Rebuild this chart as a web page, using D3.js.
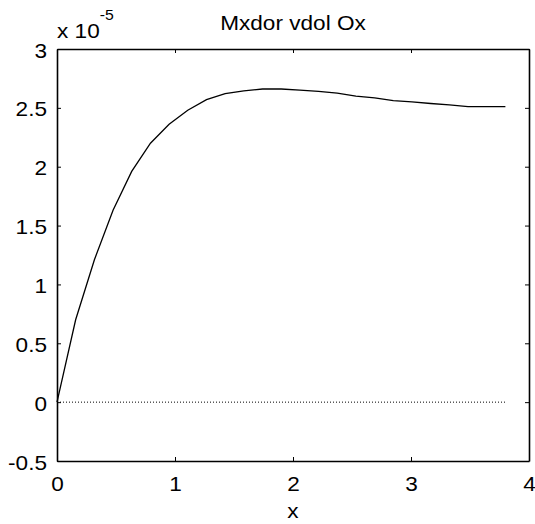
<!DOCTYPE html>
<html><head><meta charset="utf-8">
<script src="https://cdn.jsdelivr.net/npm/d3@7"></script>
<style>body{margin:0;background:#fff}svg{display:block}text{font-family:"Liberation Sans",Arial,sans-serif;fill:#000}</style>
</head><body>
<script>
const xValues = [0,0.158,0.317,0.475,0.633,0.792,0.950,1.108,1.267,1.425,1.583,1.742,1.900,2.058,2.217,2.375,2.533,2.692,2.850,3.008,3.167,3.325,3.483,3.642,3.800];
const yValues = [0,0.70,1.21,1.63,1.96,2.20,2.36,2.48,2.57,2.62,2.645,2.66,2.66,2.65,2.64,2.625,2.60,2.585,2.562,2.55,2.537,2.525,2.51,2.51,2.51];
const xTicks = [0,1,2,3,4];
const yTicks = [-0.5,0,0.5,1,1.5,2,2.5,3];
const titleText = "Mxdor vdol Ox";
const xLabel = "x";

const W = 535, H = 524;
const SX = 1.13; // horizontal text stretch seen in reference
const m = {left:57, right:6, top:49, bottom:63};
const svg = d3.select("body").append("svg").attr("width",W).attr("height",H);
const x = d3.scaleLinear().domain([0,4]).range([m.left, W-m.right]);
const y = d3.scaleLinear().domain([-0.5,3]).range([H-m.bottom, m.top]);
const data = xValues.map((v,i)=>({x:v,y:yValues[i]}));

// zero reference dotted line
svg.append("line").attr("x1",x(0)).attr("x2",x(3.8)).attr("y1",y(0)).attr("y2",y(0))
  .attr("stroke","#000").attr("stroke-width",1).attr("stroke-dasharray","1,2");

// curve
svg.append("path").datum(data)
  .attr("d", d3.line().x(d=>x(d.x)).y(d=>y(d.y)))
  .attr("fill","none").attr("stroke","#000").attr("stroke-width",1.3);

const fmt = d=>String(d);
const tl = 4;
const gb = svg.append("g").attr("transform",`translate(0,${y(-0.5)})`)
  .call(d3.axisBottom(x).tickValues(xTicks).tickFormat(fmt).tickSizeInner(-tl).tickSizeOuter(0).tickPadding(14));
const gt = svg.append("g").attr("transform",`translate(0,${y(3)})`)
  .call(d3.axisTop(x).tickValues(xTicks).tickFormat("").tickSizeInner(-tl).tickSizeOuter(0));
const gl = svg.append("g").attr("transform",`translate(${x(0)},0)`)
  .call(d3.axisLeft(y).tickValues(yTicks).tickFormat(fmt).tickSizeInner(-tl).tickSizeOuter(0).tickPadding(10));
const gr = svg.append("g").attr("transform",`translate(${x(4)},0)`)
  .call(d3.axisRight(y).tickValues(yTicks).tickFormat("").tickSizeInner(-tl).tickSizeOuter(0));
[gb,gt,gl,gr].forEach(g=>{
  g.attr("font-family",null).attr("font-size",null);
  g.select(".domain").attr("stroke","#000").attr("stroke-width",1.6);
  g.selectAll(".tick line").attr("stroke","#000").attr("stroke-width",1);
  g.selectAll("text").style("font-size","20px");
});
gb.selectAll(".tick text").attr("dy",null).attr("y",null)
  .attr("transform",`translate(0,30) scale(${SX},1)`);
gl.selectAll(".tick text").each(function(){
  const t = d3.select(this); const ox = +t.attr("x");
  t.attr("x",0).attr("dy","0.4em").attr("transform",`translate(${ox},0) scale(${SX},1)`);
});

function stretchedText(px, py, size, anchor){
  return svg.append("g").attr("transform",`translate(${px},${py}) scale(${SX},1)`)
    .append("text").attr("text-anchor",anchor).style("font-size",size+"px");
}
// exponent
const ex = stretchedText(57, 38, 20, "start");
ex.append("tspan").text("x 10");
ex.append("tspan").attr("dy",-18).style("font-size","14px").text("-5");

// title
stretchedText((x(0)+x(4))/2, 30, 20, "middle").text(titleText);
// x label
stretchedText((x(0)+x(4))/2, 518, 20, "middle").text(xLabel);
</script>
</body></html>
